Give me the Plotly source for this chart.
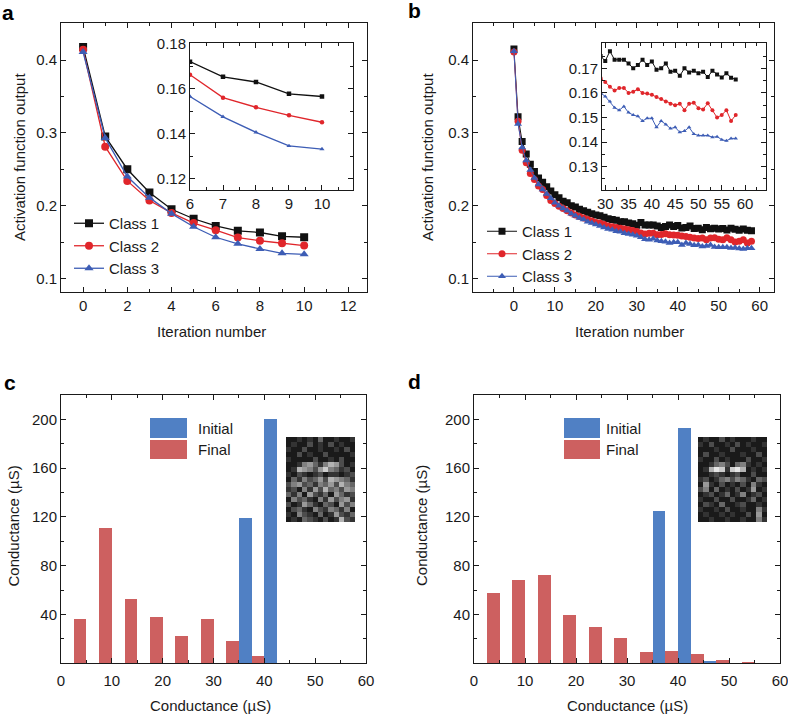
import plotly.graph_objects as go

# ---- panel a: activation output vs iteration (11 iterations) ----
iter_a = list(range(11))
a_class1 = [0.418, 0.295, 0.250, 0.218, 0.195, 0.182, 0.1722, 0.1654, 0.1631, 0.1578, 0.1566]
a_class2 = [0.414, 0.281, 0.234, 0.207, 0.190, 0.176, 0.1663, 0.1561, 0.1518, 0.1482, 0.1451]
a_class3 = [0.411, 0.293, 0.240, 0.211, 0.189, 0.171, 0.1566, 0.1475, 0.1406, 0.1345, 0.1331]

# ---- panel b: activation output vs iteration (59 iterations) ----
iter_b = list(range(59))
b_class1 = [0.415, 0.322, 0.288, 0.271, 0.257, 0.247, 0.238, 0.232, 0.226, 0.220,
            0.215, 0.211, 0.206, 0.204, 0.200, 0.198, 0.195, 0.193, 0.191, 0.189,
            0.187, 0.186, 0.184, 0.182, 0.181, 0.180, 0.178, 0.178, 0.176, 0.175,
            0.173, 0.177, 0.1735, 0.1735, 0.1735, 0.172, 0.170, 0.1714, 0.1735, 0.1714,
            0.1728, 0.1694, 0.170, 0.172, 0.1686, 0.169, 0.167, 0.170, 0.1683, 0.169,
            0.168, 0.1686, 0.1665, 0.169, 0.1675, 0.1663, 0.168, 0.1662, 0.1655]
b_class2 = [0.411, 0.316, 0.276, 0.259, 0.244, 0.236, 0.227, 0.222, 0.214, 0.207,
            0.203, 0.199, 0.196, 0.193, 0.190, 0.187, 0.185, 0.183, 0.181, 0.179,
            0.177, 0.176, 0.174, 0.172, 0.171, 0.170, 0.169, 0.168, 0.167, 0.166,
            0.1645, 0.1625, 0.161, 0.162, 0.162, 0.160, 0.1605, 0.1615, 0.160, 0.1598,
            0.1593, 0.1583, 0.1575, 0.1565, 0.1556, 0.155, 0.1556, 0.153, 0.1556, 0.156,
            0.1538, 0.1533, 0.1558, 0.153, 0.150, 0.151, 0.153, 0.1486, 0.151]
b_class3 = [0.412, 0.312, 0.280, 0.262, 0.249, 0.238, 0.229, 0.222, 0.216, 0.210,
            0.204, 0.200, 0.196, 0.193, 0.189, 0.186, 0.183, 0.181, 0.178, 0.176,
            0.174, 0.172, 0.170, 0.168, 0.167, 0.165, 0.164, 0.162, 0.161, 0.160,
            0.1586, 0.1565, 0.154, 0.153, 0.1545, 0.152, 0.151, 0.1505, 0.1486, 0.1497,
            0.1497, 0.146, 0.1486, 0.1472, 0.1455, 0.146, 0.144, 0.1445, 0.146, 0.1433,
            0.1427, 0.1427, 0.1427, 0.142, 0.1422, 0.141, 0.1405, 0.1415, 0.1415]

# ---- panels c, d: conductance histograms (5 uS bins) ----
bin_centers = [2.5, 7.5, 12.5, 17.5, 22.5, 27.5, 32.5, 37.5, 42.5, 47.5, 52.5, 57.5]
c_initial = [0, 0, 0, 0, 0, 0, 0, 119, 200, 0, 0, 0]
c_final = [36, 111, 53, 38, 22, 36, 18, 6, 0, 0, 0, 0]
d_initial = [0, 0, 0, 0, 0, 0, 0, 125, 193, 2, 0, 0]
d_final = [58, 68, 72, 40, 30, 21, 9, 10, 8, 3, 1, 0]

# conductance maps shown as insets (grey level 0-9)
img_c = [
    [1, 1, 2, 1, 2, 1, 4, 1, 1, 2, 1, 1, 2],
    [1, 2, 1, 1, 3, 1, 2, 1, 3, 1, 2, 1, 1],
    [2, 1, 1, 3, 1, 1, 2, 1, 1, 2, 1, 3, 1],
    [1, 1, 3, 1, 2, 1, 1, 3, 1, 1, 1, 1, 2],
    [2, 1, 1, 1, 1, 3, 1, 1, 2, 1, 3, 1, 1],
    [1, 1, 2, 5, 6, 4, 2, 5, 7, 6, 3, 1, 2],
    [1, 2, 7, 6, 5, 3, 6, 8, 5, 4, 2, 3, 1],
    [2, 1, 3, 2, 1, 2, 3, 1, 2, 2, 1, 2, 3],
    [1, 4, 2, 5, 3, 4, 6, 3, 7, 6, 5, 4, 2],
    [3, 5, 6, 3, 4, 2, 5, 4, 6, 3, 7, 5, 4],
    [2, 3, 1, 5, 2, 6, 3, 7, 4, 5, 3, 6, 5],
    [4, 2, 5, 1, 6, 3, 2, 4, 1, 6, 4, 2, 3],
    [1, 5, 3, 4, 2, 1, 5, 2, 6, 3, 5, 6, 2],
    [3, 1, 2, 6, 4, 2, 1, 4, 3, 1, 6, 3, 5],
    [1, 3, 4, 2, 1, 5, 3, 2, 5, 4, 2, 5, 1],
    [2, 1, 5, 3, 2, 1, 4, 1, 2, 6, 3, 2, 4],
    [1, 2, 1, 4, 3, 2, 1, 3, 1, 2, 7, 3, 2],
]
img_d = [
    [1, 2, 1, 1, 3, 1, 2, 1, 1, 1, 2, 1, 1],
    [2, 1, 3, 1, 1, 2, 1, 3, 1, 2, 1, 1, 2],
    [1, 1, 1, 2, 1, 1, 3, 1, 1, 1, 2, 1, 1],
    [1, 3, 1, 1, 2, 1, 1, 1, 2, 1, 1, 3, 1],
    [2, 1, 1, 3, 1, 2, 1, 1, 1, 3, 1, 1, 2],
    [1, 1, 2, 4, 5, 3, 1, 4, 5, 2, 1, 2, 1],
    [1, 2, 7, 9, 8, 2, 8, 9, 7, 1, 2, 1, 2],
    [1, 1, 2, 3, 2, 1, 2, 3, 1, 1, 3, 1, 1],
    [2, 3, 1, 2, 4, 5, 3, 5, 4, 2, 1, 4, 3],
    [1, 6, 2, 1, 3, 1, 2, 1, 3, 1, 5, 2, 1],
    [3, 5, 1, 4, 1, 2, 1, 3, 1, 2, 6, 1, 2],
    [1, 2, 3, 1, 2, 4, 1, 2, 5, 1, 2, 3, 1],
    [2, 1, 1, 3, 1, 1, 3, 1, 1, 2, 4, 1, 2],
    [1, 3, 2, 1, 4, 1, 1, 2, 3, 1, 1, 2, 1],
    [2, 1, 1, 2, 1, 3, 1, 1, 2, 1, 1, 5, 2],
    [1, 2, 1, 1, 2, 1, 2, 1, 1, 3, 1, 6, 1],
    [1, 1, 2, 1, 1, 2, 1, 1, 2, 1, 1, 5, 2],
]

FONT = 'Liberation Sans, Arial, sans-serif'
TXT = 15
INK = '#1a1a1a'
CLASS_STYLE = [('Class 1', '#111111', 'square'),
               ('Class 2', '#e0262b', 'circle'),
               ('Class 3', '#3d5db5', 'triangle-up')]
BAR_BLUE = '#5080c4'
BAR_RED = '#cd6060'

W, H = 788, 715


def px_x(p):
    return p / W


def px_y(p):
    return 1 - p / H


fig = go.Figure()


def add_classes(x, series, xa, ya, size, width, legend=None):
    for (name, color, symbol), y in zip(CLASS_STYLE, series):
        fig.add_trace(go.Scatter(
            x=x, y=y, name=name, mode='lines+markers', xaxis=xa, yaxis=ya,
            line=dict(color=color, width=width),
            marker=dict(color=color, symbol=symbol, size=size, line=dict(width=0)),
            showlegend=legend is not None, legend=legend or 'legend'))


add_classes(iter_a, [a_class1, a_class2, a_class3], 'x', 'y', 8, 1.3, 'legend')
add_classes(iter_a, [a_class1, a_class2, a_class3], 'x2', 'y2', 4.5, 1.3)
add_classes(iter_b, [b_class1, b_class2, b_class3], 'x3', 'y3', 7, 1.0, 'legend2')
add_classes(iter_b, [b_class1, b_class2, b_class3], 'x4', 'y4', 4, 1.0)

for xa, ya, ini, fin in [('x5', 'y5', c_initial, c_final), ('x6', 'y6', d_initial, d_final)]:
    fig.add_trace(go.Bar(x=bin_centers, y=ini, name='Initial', marker_color=BAR_BLUE,
                         marker_line_width=0, xaxis=xa, yaxis=ya, showlegend=False))
    fig.add_trace(go.Bar(x=bin_centers, y=fin, name='Final', marker_color=BAR_RED,
                         marker_line_width=0, xaxis=xa, yaxis=ya, showlegend=False))

grey = [[0, '#000000'], [1, '#ffffff']]
fig.add_trace(go.Heatmap(z=img_c, colorscale=grey, zmin=0, zmax=10, showscale=False,
                         xaxis='x7', yaxis='y7'))
fig.add_trace(go.Heatmap(z=img_d, colorscale=grey, zmin=0, zmax=10, showscale=False,
                         xaxis='x8', yaxis='y8'))


def axis(domain, rng, anchor, tickvals, minor=None, fmt=None, standoff=None):
    d = dict(domain=domain, range=rng, anchor=anchor, showline=True, linecolor=INK,
             linewidth=1, mirror='ticks', ticks='inside', ticklen=5, tickcolor=INK,
             showgrid=False, zeroline=False, automargin=False,
             ticklabeloverflow='allow',
             tickmode='array', tickvals=tickvals,
             tickfont=dict(size=TXT, color=INK))
    if fmt:
        d['tickformat'] = fmt
    if standoff:
        d['ticklabelstandoff'] = standoff
    if minor:
        d['minor'] = dict(ticks='inside', ticklen=3, tickcolor=INK, tickmode='linear',
                          tick0=0, dtick=minor, showgrid=False)
    return d


def hidden(domain, anchor, rev=False):
    d = dict(domain=domain, anchor=anchor, visible=False, automargin=False)
    if rev:
        d['autorange'] = 'reversed'
    return d


top_row = [px_y(292.3), px_y(23.3)]
inset_row = [px_y(190), px_y(43.3)]
bottom_row = [px_y(663.3), px_y(395)]
img_row = [px_y(522), px_y(437)]

act_ticks = [0.1, 0.2, 0.3, 0.4]
cond_ticks = [40, 80, 120, 160, 200]
g_ticks = [0, 10, 20, 30, 40, 50, 60]

fig.update_layout(
    xaxis=axis([px_x(61), px_x(366.7)], [-1, 12.83], 'y', [0, 2, 4, 6, 8, 10, 12], 1),
    yaxis=axis(top_row, [0.081, 0.4504], 'x', act_ticks, 0.05),
    xaxis2=axis([px_x(190), px_x(353)], [6, 10.94], 'y2', [6, 7, 8, 9, 10], 0.5),
    yaxis2=axis(inset_row, [0.1148, 0.1804], 'x2', [0.12, 0.14, 0.16, 0.18], 0.01, fmt='.2f'),
    xaxis3=axis([px_x(473), px_x(774)], [-10, 63.5], 'y3', [0, 10, 20, 30, 40, 50, 60], 5),
    yaxis3=axis(top_row, [0.081, 0.4504], 'x3', act_ticks, 0.05),
    xaxis4=axis([px_x(602), px_x(766)], [29.3, 64.5], 'y4', [30, 35, 40, 45, 50, 55, 60], 2.5),
    yaxis4=axis(inset_row, [0.1205, 0.1802], 'x4', [0.13, 0.14, 0.15, 0.16, 0.17], 0.005,
                fmt='.2f'),
    xaxis5=axis([px_x(61), px_x(366)], [0, 60], 'y5', g_ticks, 5, standoff=4),
    yaxis5=axis(bottom_row, [0, 220], 'x5', cond_ticks, 20),
    xaxis6=axis([px_x(474), px_x(780)], [0, 60], 'y6', g_ticks, 5, standoff=4),
    yaxis6=axis(bottom_row, [0, 220], 'x6', cond_ticks, 20),
    xaxis7=hidden([px_x(286), px_x(355)], 'y7'),
    yaxis7=hidden(img_row, 'x7', rev=True),
    xaxis8=hidden([px_x(698), px_x(767)], 'y8'),
    yaxis8=hidden(img_row, 'x8', rev=True),
    barmode='group', bargap=0, bargroupgap=0,
    legend=dict(x=px_x(69), y=px_y(207), xanchor='left', yanchor='top',
                bgcolor='rgba(0,0,0,0)', font=dict(size=TXT, color=INK),
                itemwidth=30, tracegroupgap=0),
    legend2=dict(x=px_x(482), y=px_y(215), xanchor='left', yanchor='top',
                 bgcolor='rgba(0,0,0,0)', font=dict(size=TXT, color=INK),
                 itemwidth=30, tracegroupgap=0),
    width=W, height=H, autosize=False,
    margin=dict(l=0, r=0, t=0, b=0, autoexpand=False),
    paper_bgcolor='white', plot_bgcolor='white',
    font=dict(family=FONT, color=INK),
)

# hand-drawn bar legends (large colour patches)
for x0, x1, tx in [(150, 187, 196), (564, 600, 604)]:
    for y0, y1, col, label in [(418, 438, BAR_BLUE, 'Initial'), (440, 459, BAR_RED, 'Final')]:
        fig.add_shape(type='rect', xref='paper', yref='paper',
                      x0=px_x(x0), x1=px_x(x1), y0=px_y(y1), y1=px_y(y0),
                      fillcolor=col, line=dict(width=0))
        fig.add_annotation(x=px_x(tx), y=px_y((y0 + y1) / 2), xref='paper', yref='paper',
                           text=label, showarrow=False, xanchor='left', yanchor='middle',
                           font=dict(size=TXT, color=INK))

# axis titles
titles = [
    (19, 157, 'Activation function output', -90),
    (427, 157, 'Activation function output', -90),
    (12.5, 526, 'Conductance (µS)', -90),
    (421, 526, 'Conductance (µS)', -90),
    (212, 331.7, 'Iteration number', 0),
    (629, 331.7, 'Iteration number', 0),
    (210, 705, 'Conductance (µS)', 0),
    (627, 705, 'Conductance (µS)', 0),
]
for x, y, text, ang in titles:
    fig.add_annotation(x=px_x(x), y=px_y(y), xref='paper', yref='paper', text=text,
                       textangle=ang, showarrow=False, xanchor='center', yanchor='middle',
                       font=dict(size=TXT, color=INK))

# panel letters
for x, y, letter in [(0, 12, 'a'), (406, 11, 'b'), (2, 382, 'c'), (406, 381, 'd')]:
    fig.add_annotation(x=px_x(x), y=px_y(y), xref='paper', yref='paper',
                       text='<b>%s</b>' % letter, showarrow=False, xanchor='left',
                       yanchor='middle', font=dict(size=21, color='#000000'))

# drop the default 8px page margin so the figure sits at the window corner
fig.write_html("out.html", config={'displayModeBar': False},
               post_script="document.body.style.margin='0';")
